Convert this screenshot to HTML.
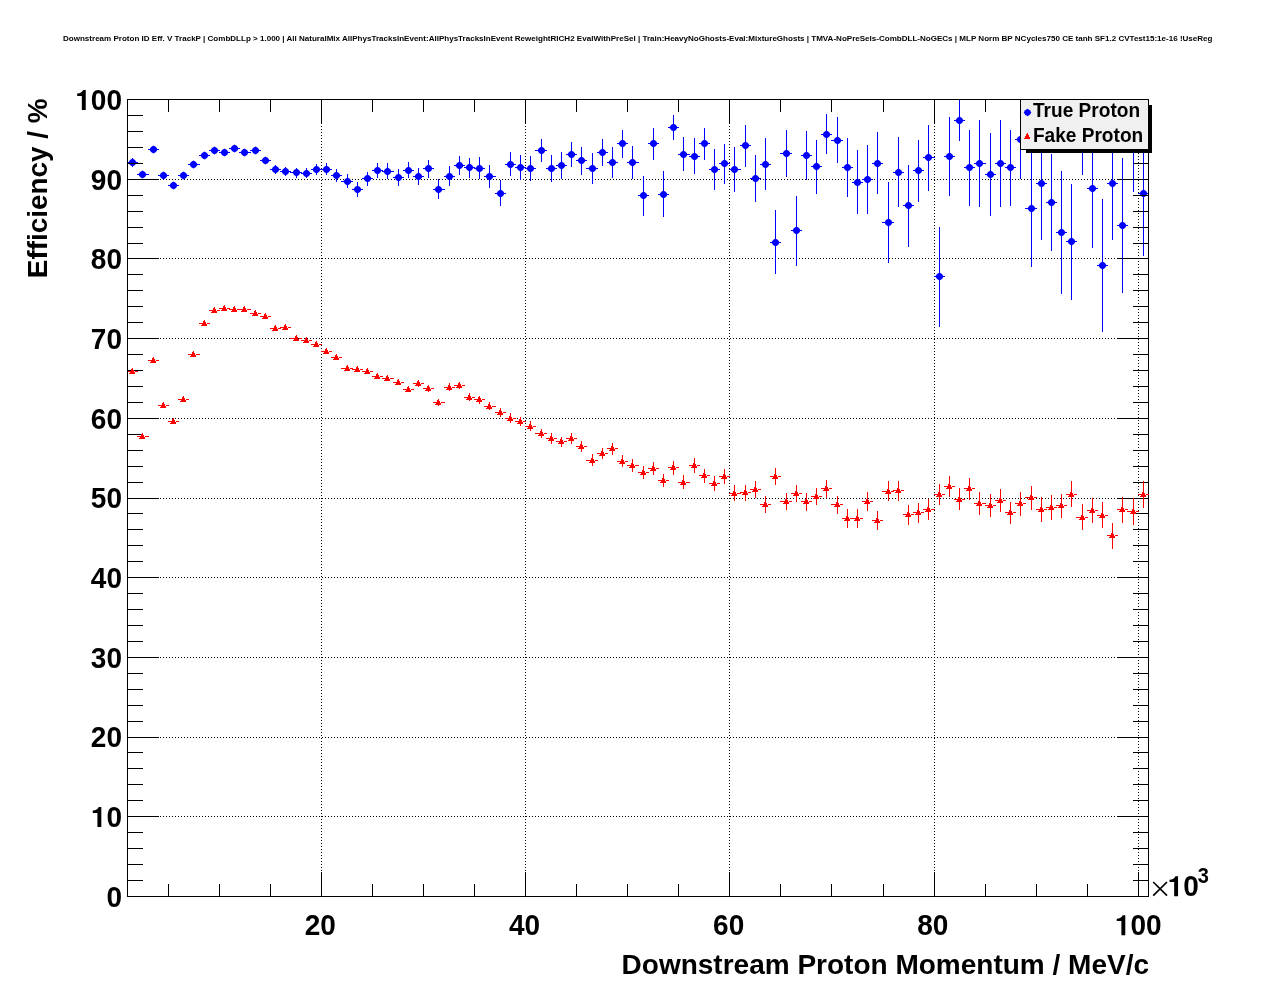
<!DOCTYPE html>
<html><head><meta charset="utf-8"><title>plot</title>
<style>html,body{margin:0;padding:0;background:#fff;}body{width:1276px;height:996px;overflow:hidden;font-family:"Liberation Sans", sans-serif;}svg{display:block;will-change:transform}</style>
</head><body>
<svg width="1276" height="996" viewBox="0 0 1276 996">
<rect x="0" y="0" width="1276" height="996" fill="#fff"/>
<defs><clipPath id="fr"><rect x="127.0" y="99.0" width="1022.0" height="798.0"/></clipPath></defs>
<g stroke="#000" stroke-width="1" stroke-dasharray="1 2" shape-rendering="crispEdges" fill="none">
<line x1="127.0" y1="816.5" x2="1148.5" y2="816.5"/>
<line x1="127.0" y1="737.5" x2="1148.5" y2="737.5"/>
<line x1="127.0" y1="657.5" x2="1148.5" y2="657.5"/>
<line x1="127.0" y1="577.5" x2="1148.5" y2="577.5"/>
<line x1="127.0" y1="498.5" x2="1148.5" y2="498.5"/>
<line x1="127.0" y1="418.5" x2="1148.5" y2="418.5"/>
<line x1="127.0" y1="338.5" x2="1148.5" y2="338.5"/>
<line x1="127.0" y1="258.5" x2="1148.5" y2="258.5"/>
<line x1="127.0" y1="179.5" x2="1148.5" y2="179.5"/>
<line x1="321.5" y1="99.0" x2="321.5" y2="896.5"/>
<line x1="525.5" y1="99.0" x2="525.5" y2="896.5"/>
<line x1="729.5" y1="99.0" x2="729.5" y2="896.5"/>
<line x1="934.5" y1="99.0" x2="934.5" y2="896.5"/>
<line x1="1138.5" y1="99.0" x2="1138.5" y2="896.5"/>
</g>
<g clip-path="url(#fr)">
<g stroke="#0000ff" stroke-width="1" shape-rendering="crispEdges" fill="none">
<line x1="127.5" y1="162.5" x2="138" y2="162.5"/>
<line x1="132.5" y1="158" x2="132.5" y2="167"/>
<line x1="137" y1="174.5" x2="149" y2="174.5"/>
<line x1="148" y1="149.5" x2="159" y2="149.5"/>
<line x1="158" y1="175.5" x2="169" y2="175.5"/>
<line x1="168" y1="185.5" x2="179" y2="185.5"/>
<line x1="178" y1="175.5" x2="189" y2="175.5"/>
<line x1="188" y1="164.5" x2="200" y2="164.5"/>
<line x1="199" y1="155.5" x2="210" y2="155.5"/>
<line x1="209" y1="150.5" x2="220" y2="150.5"/>
<line x1="219" y1="152.5" x2="230" y2="152.5"/>
<line x1="229" y1="148.5" x2="240" y2="148.5"/>
<line x1="239" y1="152.5" x2="251" y2="152.5"/>
<line x1="250" y1="150.5" x2="261" y2="150.5"/>
<line x1="260" y1="160.5" x2="271" y2="160.5"/>
<line x1="270" y1="169.5" x2="281" y2="169.5"/>
<line x1="275.5" y1="165" x2="275.5" y2="174"/>
<line x1="280" y1="171.5" x2="291" y2="171.5"/>
<line x1="285.5" y1="167" x2="285.5" y2="176"/>
<line x1="290" y1="172.5" x2="302" y2="172.5"/>
<line x1="296.5" y1="168" x2="296.5" y2="178"/>
<line x1="301" y1="173.5" x2="312" y2="173.5"/>
<line x1="306.5" y1="168" x2="306.5" y2="178"/>
<line x1="311" y1="169.5" x2="322" y2="169.5"/>
<line x1="316.5" y1="164" x2="316.5" y2="175"/>
<line x1="321" y1="169.5" x2="332" y2="169.5"/>
<line x1="326.5" y1="163" x2="326.5" y2="175"/>
<line x1="331" y1="175.5" x2="342" y2="175.5"/>
<line x1="336.5" y1="169" x2="336.5" y2="182"/>
<line x1="341" y1="181.5" x2="353" y2="181.5"/>
<line x1="347.5" y1="174" x2="347.5" y2="188"/>
<line x1="352" y1="189.5" x2="363" y2="189.5"/>
<line x1="357.5" y1="182" x2="357.5" y2="197"/>
<line x1="362" y1="178.5" x2="373" y2="178.5"/>
<line x1="367.5" y1="172" x2="367.5" y2="186"/>
<line x1="372" y1="170.5" x2="383" y2="170.5"/>
<line x1="377.5" y1="163" x2="377.5" y2="178"/>
<line x1="382" y1="171.5" x2="394" y2="171.5"/>
<line x1="387.5" y1="163" x2="387.5" y2="179"/>
<line x1="393" y1="177.5" x2="404" y2="177.5"/>
<line x1="398.5" y1="169" x2="398.5" y2="186"/>
<line x1="403" y1="170.5" x2="414" y2="170.5"/>
<line x1="408.5" y1="162" x2="408.5" y2="178"/>
<line x1="413" y1="176.5" x2="424" y2="176.5"/>
<line x1="418.5" y1="168" x2="418.5" y2="185"/>
<line x1="423" y1="168.5" x2="434" y2="168.5"/>
<line x1="428.5" y1="160" x2="428.5" y2="178"/>
<line x1="433" y1="189.5" x2="445" y2="189.5"/>
<line x1="438.5" y1="179" x2="438.5" y2="199"/>
<line x1="444" y1="176.5" x2="455" y2="176.5"/>
<line x1="449.5" y1="166" x2="449.5" y2="186"/>
<line x1="454" y1="165.5" x2="465" y2="165.5"/>
<line x1="459.5" y1="156" x2="459.5" y2="175"/>
<line x1="464" y1="167.5" x2="475" y2="167.5"/>
<line x1="469.5" y1="158" x2="469.5" y2="178"/>
<line x1="474" y1="168.5" x2="485" y2="168.5"/>
<line x1="479.5" y1="157" x2="479.5" y2="179"/>
<line x1="484" y1="176.5" x2="496" y2="176.5"/>
<line x1="489.5" y1="165" x2="489.5" y2="188"/>
<line x1="495" y1="193.5" x2="506" y2="193.5"/>
<line x1="500.5" y1="180" x2="500.5" y2="206"/>
<line x1="505" y1="164.5" x2="516" y2="164.5"/>
<line x1="510.5" y1="152" x2="510.5" y2="176"/>
<line x1="515" y1="167.5" x2="526" y2="167.5"/>
<line x1="520.5" y1="155" x2="520.5" y2="180"/>
<line x1="525" y1="168.5" x2="536" y2="168.5"/>
<line x1="530.5" y1="156" x2="530.5" y2="181"/>
<line x1="535" y1="150.5" x2="547" y2="150.5"/>
<line x1="541.5" y1="139" x2="541.5" y2="162"/>
<line x1="546" y1="168.5" x2="557" y2="168.5"/>
<line x1="551.5" y1="155" x2="551.5" y2="182"/>
<line x1="556" y1="165.5" x2="567" y2="165.5"/>
<line x1="561.5" y1="152" x2="561.5" y2="179"/>
<line x1="566" y1="154.5" x2="577" y2="154.5"/>
<line x1="571.5" y1="142" x2="571.5" y2="167"/>
<line x1="576" y1="160.5" x2="587" y2="160.5"/>
<line x1="581.5" y1="147" x2="581.5" y2="175"/>
<line x1="586" y1="168.5" x2="598" y2="168.5"/>
<line x1="592.5" y1="153" x2="592.5" y2="184"/>
<line x1="597" y1="152.5" x2="608" y2="152.5"/>
<line x1="602.5" y1="139" x2="602.5" y2="166"/>
<line x1="607" y1="162.5" x2="618" y2="162.5"/>
<line x1="612.5" y1="147" x2="612.5" y2="178"/>
<line x1="617" y1="143.5" x2="628" y2="143.5"/>
<line x1="622.5" y1="130" x2="622.5" y2="158"/>
<line x1="627" y1="162.5" x2="639" y2="162.5"/>
<line x1="632.5" y1="146" x2="632.5" y2="179"/>
<line x1="638" y1="195.5" x2="649" y2="195.5"/>
<line x1="643.5" y1="176" x2="643.5" y2="216"/>
<line x1="648" y1="143.5" x2="659" y2="143.5"/>
<line x1="653.5" y1="128" x2="653.5" y2="160"/>
<line x1="658" y1="194.5" x2="669" y2="194.5"/>
<line x1="663.5" y1="171" x2="663.5" y2="217"/>
<line x1="668" y1="127.5" x2="679" y2="127.5"/>
<line x1="673.5" y1="115" x2="673.5" y2="140"/>
<line x1="678" y1="154.5" x2="690" y2="154.5"/>
<line x1="683.5" y1="137" x2="683.5" y2="171"/>
<line x1="689" y1="156.5" x2="700" y2="156.5"/>
<line x1="694.5" y1="138" x2="694.5" y2="174"/>
<line x1="699" y1="143.5" x2="710" y2="143.5"/>
<line x1="704.5" y1="128" x2="704.5" y2="160"/>
<line x1="709" y1="169.5" x2="720" y2="169.5"/>
<line x1="714.5" y1="149" x2="714.5" y2="190"/>
<line x1="719" y1="163.5" x2="730" y2="163.5"/>
<line x1="724.5" y1="144" x2="724.5" y2="184"/>
<line x1="729" y1="169.5" x2="741" y2="169.5"/>
<line x1="734.5" y1="147" x2="734.5" y2="192"/>
<line x1="740" y1="145.5" x2="751" y2="145.5"/>
<line x1="745.5" y1="125" x2="745.5" y2="167"/>
<line x1="750" y1="178.5" x2="761" y2="178.5"/>
<line x1="755.5" y1="155" x2="755.5" y2="202"/>
<line x1="760" y1="164.5" x2="771" y2="164.5"/>
<line x1="765.5" y1="138" x2="765.5" y2="190"/>
<line x1="770" y1="242.5" x2="781" y2="242.5"/>
<line x1="775.5" y1="210" x2="775.5" y2="274"/>
<line x1="780" y1="153.5" x2="792" y2="153.5"/>
<line x1="786.5" y1="130" x2="786.5" y2="177"/>
<line x1="791" y1="230.5" x2="802" y2="230.5"/>
<line x1="796.5" y1="196" x2="796.5" y2="266"/>
<line x1="801" y1="155.5" x2="812" y2="155.5"/>
<line x1="806.5" y1="131" x2="806.5" y2="180"/>
<line x1="811" y1="166.5" x2="822" y2="166.5"/>
<line x1="816.5" y1="140" x2="816.5" y2="194"/>
<line x1="821" y1="134.5" x2="832" y2="134.5"/>
<line x1="826.5" y1="114" x2="826.5" y2="154"/>
<line x1="831" y1="140.5" x2="843" y2="140.5"/>
<line x1="837.5" y1="117" x2="837.5" y2="163"/>
<line x1="842" y1="167.5" x2="853" y2="167.5"/>
<line x1="847.5" y1="138" x2="847.5" y2="197"/>
<line x1="852" y1="182.5" x2="863" y2="182.5"/>
<line x1="857.5" y1="150" x2="857.5" y2="214"/>
<line x1="862" y1="179.5" x2="873" y2="179.5"/>
<line x1="867.5" y1="145" x2="867.5" y2="214"/>
<line x1="872" y1="163.5" x2="883" y2="163.5"/>
<line x1="877.5" y1="132" x2="877.5" y2="194"/>
<line x1="882" y1="222.5" x2="894" y2="222.5"/>
<line x1="888.5" y1="182" x2="888.5" y2="263"/>
<line x1="893" y1="172.5" x2="904" y2="172.5"/>
<line x1="898.5" y1="137" x2="898.5" y2="207"/>
<line x1="903" y1="205.5" x2="914" y2="205.5"/>
<line x1="908.5" y1="165" x2="908.5" y2="247"/>
<line x1="913" y1="170.5" x2="924" y2="170.5"/>
<line x1="918.5" y1="140" x2="918.5" y2="202"/>
<line x1="923" y1="157.5" x2="935" y2="157.5"/>
<line x1="928.5" y1="125" x2="928.5" y2="191"/>
<line x1="934" y1="276.5" x2="945" y2="276.5"/>
<line x1="939.5" y1="227" x2="939.5" y2="327"/>
<line x1="944" y1="156.5" x2="955" y2="156.5"/>
<line x1="949.5" y1="117" x2="949.5" y2="196"/>
<line x1="954" y1="120.5" x2="965" y2="120.5"/>
<line x1="959.5" y1="100" x2="959.5" y2="141"/>
<line x1="964" y1="167.5" x2="975" y2="167.5"/>
<line x1="969.5" y1="130" x2="969.5" y2="206"/>
<line x1="974" y1="163.5" x2="986" y2="163.5"/>
<line x1="979.5" y1="120" x2="979.5" y2="207"/>
<line x1="985" y1="174.5" x2="996" y2="174.5"/>
<line x1="990.5" y1="133" x2="990.5" y2="216"/>
<line x1="995" y1="163.5" x2="1006" y2="163.5"/>
<line x1="1000.5" y1="120" x2="1000.5" y2="207"/>
<line x1="1005" y1="167.5" x2="1016" y2="167.5"/>
<line x1="1010.5" y1="130" x2="1010.5" y2="206"/>
<line x1="1015" y1="139.5" x2="1026" y2="139.5"/>
<line x1="1020.5" y1="100" x2="1020.5" y2="179"/>
<line x1="1025" y1="208.5" x2="1037" y2="208.5"/>
<line x1="1031.5" y1="150" x2="1031.5" y2="267"/>
<line x1="1036" y1="183.5" x2="1047" y2="183.5"/>
<line x1="1041.5" y1="128" x2="1041.5" y2="240"/>
<line x1="1046" y1="202.5" x2="1057" y2="202.5"/>
<line x1="1051.5" y1="154" x2="1051.5" y2="251"/>
<line x1="1056" y1="232.5" x2="1067" y2="232.5"/>
<line x1="1061.5" y1="171" x2="1061.5" y2="294"/>
<line x1="1066" y1="241.5" x2="1077" y2="241.5"/>
<line x1="1071.5" y1="184" x2="1071.5" y2="300"/>
<line x1="1076" y1="129.5" x2="1088" y2="129.5"/>
<line x1="1082.5" y1="83" x2="1082.5" y2="175"/>
<line x1="1087" y1="188.5" x2="1098" y2="188.5"/>
<line x1="1092.5" y1="129" x2="1092.5" y2="248"/>
<line x1="1097" y1="265.5" x2="1108" y2="265.5"/>
<line x1="1102.5" y1="199" x2="1102.5" y2="332"/>
<line x1="1107" y1="183.5" x2="1118" y2="183.5"/>
<line x1="1112.5" y1="128" x2="1112.5" y2="240"/>
<line x1="1117" y1="225.5" x2="1128" y2="225.5"/>
<line x1="1122.5" y1="158" x2="1122.5" y2="293"/>
<line x1="1127" y1="130.5" x2="1139" y2="130.5"/>
<line x1="1133.5" y1="68" x2="1133.5" y2="192"/>
<line x1="1138" y1="193.5" x2="1149" y2="193.5"/>
<line x1="1143.5" y1="131" x2="1143.5" y2="256"/>
</g>
<g fill="#0000ff" stroke="none">
<path d="M136.6 162.5L135.0 165.0L132.5 166.6L130.0 165.0L128.4 162.5L130.0 160.0L132.5 158.4L135.0 160.0Z"/>
<path d="M146.6 174.5L145.0 177.0L142.5 178.6L140.0 177.0L138.4 174.5L140.0 172.0L142.5 170.4L145.0 172.0Z"/>
<path d="M157.6 149.5L156.0 152.0L153.5 153.6L151.0 152.0L149.4 149.5L151.0 147.0L153.5 145.4L156.0 147.0Z"/>
<path d="M167.6 175.5L166.0 178.0L163.5 179.6L161.0 178.0L159.4 175.5L161.0 173.0L163.5 171.4L166.0 173.0Z"/>
<path d="M177.6 185.5L176.0 188.0L173.5 189.6L171.0 188.0L169.4 185.5L171.0 183.0L173.5 181.4L176.0 183.0Z"/>
<path d="M187.6 175.5L186.0 178.0L183.5 179.6L181.0 178.0L179.4 175.5L181.0 173.0L183.5 171.4L186.0 173.0Z"/>
<path d="M197.6 164.5L196.0 167.0L193.5 168.6L191.0 167.0L189.4 164.5L191.0 162.0L193.5 160.4L196.0 162.0Z"/>
<path d="M208.6 155.5L207.0 158.0L204.5 159.6L202.0 158.0L200.4 155.5L202.0 153.0L204.5 151.4L207.0 153.0Z"/>
<path d="M218.6 150.5L217.0 153.0L214.5 154.6L212.0 153.0L210.4 150.5L212.0 148.0L214.5 146.4L217.0 148.0Z"/>
<path d="M228.6 152.5L227.0 155.0L224.5 156.6L222.0 155.0L220.4 152.5L222.0 150.0L224.5 148.4L227.0 150.0Z"/>
<path d="M238.6 148.5L237.0 151.0L234.5 152.6L232.0 151.0L230.4 148.5L232.0 146.0L234.5 144.4L237.0 146.0Z"/>
<path d="M248.6 152.5L247.0 155.0L244.5 156.6L242.0 155.0L240.4 152.5L242.0 150.0L244.5 148.4L247.0 150.0Z"/>
<path d="M259.6 150.5L258.0 153.0L255.5 154.6L253.0 153.0L251.4 150.5L253.0 148.0L255.5 146.4L258.0 148.0Z"/>
<path d="M269.6 160.5L268.0 163.0L265.5 164.6L263.0 163.0L261.4 160.5L263.0 158.0L265.5 156.4L268.0 158.0Z"/>
<path d="M279.6 169.5L278.0 172.0L275.5 173.6L273.0 172.0L271.4 169.5L273.0 167.0L275.5 165.4L278.0 167.0Z"/>
<path d="M289.6 171.5L288.0 174.0L285.5 175.6L283.0 174.0L281.4 171.5L283.0 169.0L285.5 167.4L288.0 169.0Z"/>
<path d="M300.6 172.5L299.0 175.0L296.5 176.6L294.0 175.0L292.4 172.5L294.0 170.0L296.5 168.4L299.0 170.0Z"/>
<path d="M310.6 173.5L309.0 176.0L306.5 177.6L304.0 176.0L302.4 173.5L304.0 171.0L306.5 169.4L309.0 171.0Z"/>
<path d="M320.6 169.5L319.0 172.0L316.5 173.6L314.0 172.0L312.4 169.5L314.0 167.0L316.5 165.4L319.0 167.0Z"/>
<path d="M330.6 169.5L329.0 172.0L326.5 173.6L324.0 172.0L322.4 169.5L324.0 167.0L326.5 165.4L329.0 167.0Z"/>
<path d="M340.6 175.5L339.0 178.0L336.5 179.6L334.0 178.0L332.4 175.5L334.0 173.0L336.5 171.4L339.0 173.0Z"/>
<path d="M351.6 181.5L350.0 184.0L347.5 185.6L345.0 184.0L343.4 181.5L345.0 179.0L347.5 177.4L350.0 179.0Z"/>
<path d="M361.6 189.5L360.0 192.0L357.5 193.6L355.0 192.0L353.4 189.5L355.0 187.0L357.5 185.4L360.0 187.0Z"/>
<path d="M371.6 178.5L370.0 181.0L367.5 182.6L365.0 181.0L363.4 178.5L365.0 176.0L367.5 174.4L370.0 176.0Z"/>
<path d="M381.6 170.5L380.0 173.0L377.5 174.6L375.0 173.0L373.4 170.5L375.0 168.0L377.5 166.4L380.0 168.0Z"/>
<path d="M391.6 171.5L390.0 174.0L387.5 175.6L385.0 174.0L383.4 171.5L385.0 169.0L387.5 167.4L390.0 169.0Z"/>
<path d="M402.6 177.5L401.0 180.0L398.5 181.6L396.0 180.0L394.4 177.5L396.0 175.0L398.5 173.4L401.0 175.0Z"/>
<path d="M412.6 170.5L411.0 173.0L408.5 174.6L406.0 173.0L404.4 170.5L406.0 168.0L408.5 166.4L411.0 168.0Z"/>
<path d="M422.6 176.5L421.0 179.0L418.5 180.6L416.0 179.0L414.4 176.5L416.0 174.0L418.5 172.4L421.0 174.0Z"/>
<path d="M432.6 168.5L431.0 171.0L428.5 172.6L426.0 171.0L424.4 168.5L426.0 166.0L428.5 164.4L431.0 166.0Z"/>
<path d="M442.6 189.5L441.0 192.0L438.5 193.6L436.0 192.0L434.4 189.5L436.0 187.0L438.5 185.4L441.0 187.0Z"/>
<path d="M453.6 176.5L452.0 179.0L449.5 180.6L447.0 179.0L445.4 176.5L447.0 174.0L449.5 172.4L452.0 174.0Z"/>
<path d="M463.6 165.5L462.0 168.0L459.5 169.6L457.0 168.0L455.4 165.5L457.0 163.0L459.5 161.4L462.0 163.0Z"/>
<path d="M473.6 167.5L472.0 170.0L469.5 171.6L467.0 170.0L465.4 167.5L467.0 165.0L469.5 163.4L472.0 165.0Z"/>
<path d="M483.6 168.5L482.0 171.0L479.5 172.6L477.0 171.0L475.4 168.5L477.0 166.0L479.5 164.4L482.0 166.0Z"/>
<path d="M493.6 176.5L492.0 179.0L489.5 180.6L487.0 179.0L485.4 176.5L487.0 174.0L489.5 172.4L492.0 174.0Z"/>
<path d="M504.6 193.5L503.0 196.0L500.5 197.6L498.0 196.0L496.4 193.5L498.0 191.0L500.5 189.4L503.0 191.0Z"/>
<path d="M514.6 164.5L513.0 167.0L510.5 168.6L508.0 167.0L506.4 164.5L508.0 162.0L510.5 160.4L513.0 162.0Z"/>
<path d="M524.6 167.5L523.0 170.0L520.5 171.6L518.0 170.0L516.4 167.5L518.0 165.0L520.5 163.4L523.0 165.0Z"/>
<path d="M534.6 168.5L533.0 171.0L530.5 172.6L528.0 171.0L526.4 168.5L528.0 166.0L530.5 164.4L533.0 166.0Z"/>
<path d="M545.6 150.5L544.0 153.0L541.5 154.6L539.0 153.0L537.4 150.5L539.0 148.0L541.5 146.4L544.0 148.0Z"/>
<path d="M555.6 168.5L554.0 171.0L551.5 172.6L549.0 171.0L547.4 168.5L549.0 166.0L551.5 164.4L554.0 166.0Z"/>
<path d="M565.6 165.5L564.0 168.0L561.5 169.6L559.0 168.0L557.4 165.5L559.0 163.0L561.5 161.4L564.0 163.0Z"/>
<path d="M575.6 154.5L574.0 157.0L571.5 158.6L569.0 157.0L567.4 154.5L569.0 152.0L571.5 150.4L574.0 152.0Z"/>
<path d="M585.6 160.5L584.0 163.0L581.5 164.6L579.0 163.0L577.4 160.5L579.0 158.0L581.5 156.4L584.0 158.0Z"/>
<path d="M596.6 168.5L595.0 171.0L592.5 172.6L590.0 171.0L588.4 168.5L590.0 166.0L592.5 164.4L595.0 166.0Z"/>
<path d="M606.6 152.5L605.0 155.0L602.5 156.6L600.0 155.0L598.4 152.5L600.0 150.0L602.5 148.4L605.0 150.0Z"/>
<path d="M616.6 162.5L615.0 165.0L612.5 166.6L610.0 165.0L608.4 162.5L610.0 160.0L612.5 158.4L615.0 160.0Z"/>
<path d="M626.6 143.5L625.0 146.0L622.5 147.6L620.0 146.0L618.4 143.5L620.0 141.0L622.5 139.4L625.0 141.0Z"/>
<path d="M636.6 162.5L635.0 165.0L632.5 166.6L630.0 165.0L628.4 162.5L630.0 160.0L632.5 158.4L635.0 160.0Z"/>
<path d="M647.6 195.5L646.0 198.0L643.5 199.6L641.0 198.0L639.4 195.5L641.0 193.0L643.5 191.4L646.0 193.0Z"/>
<path d="M657.6 143.5L656.0 146.0L653.5 147.6L651.0 146.0L649.4 143.5L651.0 141.0L653.5 139.4L656.0 141.0Z"/>
<path d="M667.6 194.5L666.0 197.0L663.5 198.6L661.0 197.0L659.4 194.5L661.0 192.0L663.5 190.4L666.0 192.0Z"/>
<path d="M677.6 127.5L676.0 130.0L673.5 131.6L671.0 130.0L669.4 127.5L671.0 125.0L673.5 123.4L676.0 125.0Z"/>
<path d="M687.6 154.5L686.0 157.0L683.5 158.6L681.0 157.0L679.4 154.5L681.0 152.0L683.5 150.4L686.0 152.0Z"/>
<path d="M698.6 156.5L697.0 159.0L694.5 160.6L692.0 159.0L690.4 156.5L692.0 154.0L694.5 152.4L697.0 154.0Z"/>
<path d="M708.6 143.5L707.0 146.0L704.5 147.6L702.0 146.0L700.4 143.5L702.0 141.0L704.5 139.4L707.0 141.0Z"/>
<path d="M718.6 169.5L717.0 172.0L714.5 173.6L712.0 172.0L710.4 169.5L712.0 167.0L714.5 165.4L717.0 167.0Z"/>
<path d="M728.6 163.5L727.0 166.0L724.5 167.6L722.0 166.0L720.4 163.5L722.0 161.0L724.5 159.4L727.0 161.0Z"/>
<path d="M738.6 169.5L737.0 172.0L734.5 173.6L732.0 172.0L730.4 169.5L732.0 167.0L734.5 165.4L737.0 167.0Z"/>
<path d="M749.6 145.5L748.0 148.0L745.5 149.6L743.0 148.0L741.4 145.5L743.0 143.0L745.5 141.4L748.0 143.0Z"/>
<path d="M759.6 178.5L758.0 181.0L755.5 182.6L753.0 181.0L751.4 178.5L753.0 176.0L755.5 174.4L758.0 176.0Z"/>
<path d="M769.6 164.5L768.0 167.0L765.5 168.6L763.0 167.0L761.4 164.5L763.0 162.0L765.5 160.4L768.0 162.0Z"/>
<path d="M779.6 242.5L778.0 245.0L775.5 246.6L773.0 245.0L771.4 242.5L773.0 240.0L775.5 238.4L778.0 240.0Z"/>
<path d="M790.6 153.5L789.0 156.0L786.5 157.6L784.0 156.0L782.4 153.5L784.0 151.0L786.5 149.4L789.0 151.0Z"/>
<path d="M800.6 230.5L799.0 233.0L796.5 234.6L794.0 233.0L792.4 230.5L794.0 228.0L796.5 226.4L799.0 228.0Z"/>
<path d="M810.6 155.5L809.0 158.0L806.5 159.6L804.0 158.0L802.4 155.5L804.0 153.0L806.5 151.4L809.0 153.0Z"/>
<path d="M820.6 166.5L819.0 169.0L816.5 170.6L814.0 169.0L812.4 166.5L814.0 164.0L816.5 162.4L819.0 164.0Z"/>
<path d="M830.6 134.5L829.0 137.0L826.5 138.6L824.0 137.0L822.4 134.5L824.0 132.0L826.5 130.4L829.0 132.0Z"/>
<path d="M841.6 140.5L840.0 143.0L837.5 144.6L835.0 143.0L833.4 140.5L835.0 138.0L837.5 136.4L840.0 138.0Z"/>
<path d="M851.6 167.5L850.0 170.0L847.5 171.6L845.0 170.0L843.4 167.5L845.0 165.0L847.5 163.4L850.0 165.0Z"/>
<path d="M861.6 182.5L860.0 185.0L857.5 186.6L855.0 185.0L853.4 182.5L855.0 180.0L857.5 178.4L860.0 180.0Z"/>
<path d="M871.6 179.5L870.0 182.0L867.5 183.6L865.0 182.0L863.4 179.5L865.0 177.0L867.5 175.4L870.0 177.0Z"/>
<path d="M881.6 163.5L880.0 166.0L877.5 167.6L875.0 166.0L873.4 163.5L875.0 161.0L877.5 159.4L880.0 161.0Z"/>
<path d="M892.6 222.5L891.0 225.0L888.5 226.6L886.0 225.0L884.4 222.5L886.0 220.0L888.5 218.4L891.0 220.0Z"/>
<path d="M902.6 172.5L901.0 175.0L898.5 176.6L896.0 175.0L894.4 172.5L896.0 170.0L898.5 168.4L901.0 170.0Z"/>
<path d="M912.6 205.5L911.0 208.0L908.5 209.6L906.0 208.0L904.4 205.5L906.0 203.0L908.5 201.4L911.0 203.0Z"/>
<path d="M922.6 170.5L921.0 173.0L918.5 174.6L916.0 173.0L914.4 170.5L916.0 168.0L918.5 166.4L921.0 168.0Z"/>
<path d="M932.6 157.5L931.0 160.0L928.5 161.6L926.0 160.0L924.4 157.5L926.0 155.0L928.5 153.4L931.0 155.0Z"/>
<path d="M943.6 276.5L942.0 279.0L939.5 280.6L937.0 279.0L935.4 276.5L937.0 274.0L939.5 272.4L942.0 274.0Z"/>
<path d="M953.6 156.5L952.0 159.0L949.5 160.6L947.0 159.0L945.4 156.5L947.0 154.0L949.5 152.4L952.0 154.0Z"/>
<path d="M963.6 120.5L962.0 123.0L959.5 124.6L957.0 123.0L955.4 120.5L957.0 118.0L959.5 116.4L962.0 118.0Z"/>
<path d="M973.6 167.5L972.0 170.0L969.5 171.6L967.0 170.0L965.4 167.5L967.0 165.0L969.5 163.4L972.0 165.0Z"/>
<path d="M983.6 163.5L982.0 166.0L979.5 167.6L977.0 166.0L975.4 163.5L977.0 161.0L979.5 159.4L982.0 161.0Z"/>
<path d="M994.6 174.5L993.0 177.0L990.5 178.6L988.0 177.0L986.4 174.5L988.0 172.0L990.5 170.4L993.0 172.0Z"/>
<path d="M1004.6 163.5L1003.0 166.0L1000.5 167.6L998.0 166.0L996.4 163.5L998.0 161.0L1000.5 159.4L1003.0 161.0Z"/>
<path d="M1014.6 167.5L1013.0 170.0L1010.5 171.6L1008.0 170.0L1006.4 167.5L1008.0 165.0L1010.5 163.4L1013.0 165.0Z"/>
<path d="M1024.6 139.5L1023.0 142.0L1020.5 143.6L1018.0 142.0L1016.4 139.5L1018.0 137.0L1020.5 135.4L1023.0 137.0Z"/>
<path d="M1035.6 208.5L1034.0 211.0L1031.5 212.6L1029.0 211.0L1027.4 208.5L1029.0 206.0L1031.5 204.4L1034.0 206.0Z"/>
<path d="M1045.6 183.5L1044.0 186.0L1041.5 187.6L1039.0 186.0L1037.4 183.5L1039.0 181.0L1041.5 179.4L1044.0 181.0Z"/>
<path d="M1055.6 202.5L1054.0 205.0L1051.5 206.6L1049.0 205.0L1047.4 202.5L1049.0 200.0L1051.5 198.4L1054.0 200.0Z"/>
<path d="M1065.6 232.5L1064.0 235.0L1061.5 236.6L1059.0 235.0L1057.4 232.5L1059.0 230.0L1061.5 228.4L1064.0 230.0Z"/>
<path d="M1075.6 241.5L1074.0 244.0L1071.5 245.6L1069.0 244.0L1067.4 241.5L1069.0 239.0L1071.5 237.4L1074.0 239.0Z"/>
<path d="M1086.6 129.5L1085.0 132.0L1082.5 133.6L1080.0 132.0L1078.4 129.5L1080.0 127.0L1082.5 125.4L1085.0 127.0Z"/>
<path d="M1096.6 188.5L1095.0 191.0L1092.5 192.6L1090.0 191.0L1088.4 188.5L1090.0 186.0L1092.5 184.4L1095.0 186.0Z"/>
<path d="M1106.6 265.5L1105.0 268.0L1102.5 269.6L1100.0 268.0L1098.4 265.5L1100.0 263.0L1102.5 261.4L1105.0 263.0Z"/>
<path d="M1116.6 183.5L1115.0 186.0L1112.5 187.6L1110.0 186.0L1108.4 183.5L1110.0 181.0L1112.5 179.4L1115.0 181.0Z"/>
<path d="M1126.6 225.5L1125.0 228.0L1122.5 229.6L1120.0 228.0L1118.4 225.5L1120.0 223.0L1122.5 221.4L1125.0 223.0Z"/>
<path d="M1137.6 130.5L1136.0 133.0L1133.5 134.6L1131.0 133.0L1129.4 130.5L1131.0 128.0L1133.5 126.4L1136.0 128.0Z"/>
<path d="M1147.6 193.5L1146.0 196.0L1143.5 197.6L1141.0 196.0L1139.4 193.5L1141.0 191.0L1143.5 189.4L1146.0 191.0Z"/>
</g></g>
<g stroke="#000" stroke-width="1" shape-rendering="crispEdges" fill="none">
<rect x="127.5" y="99.5" width="1021.0" height="797.0"/>
<line x1="127.5" y1="896.5" x2="159.0" y2="896.5"/>
<line x1="1148.5" y1="896.5" x2="1117.0" y2="896.5"/>
<line x1="127.5" y1="880.5" x2="143.0" y2="880.5"/>
<line x1="1148.5" y1="880.5" x2="1133.0" y2="880.5"/>
<line x1="127.5" y1="864.5" x2="143.0" y2="864.5"/>
<line x1="1148.5" y1="864.5" x2="1133.0" y2="864.5"/>
<line x1="127.5" y1="848.5" x2="143.0" y2="848.5"/>
<line x1="1148.5" y1="848.5" x2="1133.0" y2="848.5"/>
<line x1="127.5" y1="832.5" x2="143.0" y2="832.5"/>
<line x1="1148.5" y1="832.5" x2="1133.0" y2="832.5"/>
<line x1="127.5" y1="816.5" x2="159.0" y2="816.5"/>
<line x1="1148.5" y1="816.5" x2="1117.0" y2="816.5"/>
<line x1="127.5" y1="800.5" x2="143.0" y2="800.5"/>
<line x1="1148.5" y1="800.5" x2="1133.0" y2="800.5"/>
<line x1="127.5" y1="784.5" x2="143.0" y2="784.5"/>
<line x1="1148.5" y1="784.5" x2="1133.0" y2="784.5"/>
<line x1="127.5" y1="768.5" x2="143.0" y2="768.5"/>
<line x1="1148.5" y1="768.5" x2="1133.0" y2="768.5"/>
<line x1="127.5" y1="752.5" x2="143.0" y2="752.5"/>
<line x1="1148.5" y1="752.5" x2="1133.0" y2="752.5"/>
<line x1="127.5" y1="737.5" x2="159.0" y2="737.5"/>
<line x1="1148.5" y1="737.5" x2="1117.0" y2="737.5"/>
<line x1="127.5" y1="721.5" x2="143.0" y2="721.5"/>
<line x1="1148.5" y1="721.5" x2="1133.0" y2="721.5"/>
<line x1="127.5" y1="705.5" x2="143.0" y2="705.5"/>
<line x1="1148.5" y1="705.5" x2="1133.0" y2="705.5"/>
<line x1="127.5" y1="689.5" x2="143.0" y2="689.5"/>
<line x1="1148.5" y1="689.5" x2="1133.0" y2="689.5"/>
<line x1="127.5" y1="673.5" x2="143.0" y2="673.5"/>
<line x1="1148.5" y1="673.5" x2="1133.0" y2="673.5"/>
<line x1="127.5" y1="657.5" x2="159.0" y2="657.5"/>
<line x1="1148.5" y1="657.5" x2="1117.0" y2="657.5"/>
<line x1="127.5" y1="641.5" x2="143.0" y2="641.5"/>
<line x1="1148.5" y1="641.5" x2="1133.0" y2="641.5"/>
<line x1="127.5" y1="625.5" x2="143.0" y2="625.5"/>
<line x1="1148.5" y1="625.5" x2="1133.0" y2="625.5"/>
<line x1="127.5" y1="609.5" x2="143.0" y2="609.5"/>
<line x1="1148.5" y1="609.5" x2="1133.0" y2="609.5"/>
<line x1="127.5" y1="593.5" x2="143.0" y2="593.5"/>
<line x1="1148.5" y1="593.5" x2="1133.0" y2="593.5"/>
<line x1="127.5" y1="577.5" x2="159.0" y2="577.5"/>
<line x1="1148.5" y1="577.5" x2="1117.0" y2="577.5"/>
<line x1="127.5" y1="561.5" x2="143.0" y2="561.5"/>
<line x1="1148.5" y1="561.5" x2="1133.0" y2="561.5"/>
<line x1="127.5" y1="545.5" x2="143.0" y2="545.5"/>
<line x1="1148.5" y1="545.5" x2="1133.0" y2="545.5"/>
<line x1="127.5" y1="529.5" x2="143.0" y2="529.5"/>
<line x1="1148.5" y1="529.5" x2="1133.0" y2="529.5"/>
<line x1="127.5" y1="513.5" x2="143.0" y2="513.5"/>
<line x1="1148.5" y1="513.5" x2="1133.0" y2="513.5"/>
<line x1="127.5" y1="498.5" x2="159.0" y2="498.5"/>
<line x1="1148.5" y1="498.5" x2="1117.0" y2="498.5"/>
<line x1="127.5" y1="482.5" x2="143.0" y2="482.5"/>
<line x1="1148.5" y1="482.5" x2="1133.0" y2="482.5"/>
<line x1="127.5" y1="466.5" x2="143.0" y2="466.5"/>
<line x1="1148.5" y1="466.5" x2="1133.0" y2="466.5"/>
<line x1="127.5" y1="450.5" x2="143.0" y2="450.5"/>
<line x1="1148.5" y1="450.5" x2="1133.0" y2="450.5"/>
<line x1="127.5" y1="434.5" x2="143.0" y2="434.5"/>
<line x1="1148.5" y1="434.5" x2="1133.0" y2="434.5"/>
<line x1="127.5" y1="418.5" x2="159.0" y2="418.5"/>
<line x1="1148.5" y1="418.5" x2="1117.0" y2="418.5"/>
<line x1="127.5" y1="402.5" x2="143.0" y2="402.5"/>
<line x1="1148.5" y1="402.5" x2="1133.0" y2="402.5"/>
<line x1="127.5" y1="386.5" x2="143.0" y2="386.5"/>
<line x1="1148.5" y1="386.5" x2="1133.0" y2="386.5"/>
<line x1="127.5" y1="370.5" x2="143.0" y2="370.5"/>
<line x1="1148.5" y1="370.5" x2="1133.0" y2="370.5"/>
<line x1="127.5" y1="354.5" x2="143.0" y2="354.5"/>
<line x1="1148.5" y1="354.5" x2="1133.0" y2="354.5"/>
<line x1="127.5" y1="338.5" x2="159.0" y2="338.5"/>
<line x1="1148.5" y1="338.5" x2="1117.0" y2="338.5"/>
<line x1="127.5" y1="322.5" x2="143.0" y2="322.5"/>
<line x1="1148.5" y1="322.5" x2="1133.0" y2="322.5"/>
<line x1="127.5" y1="306.5" x2="143.0" y2="306.5"/>
<line x1="1148.5" y1="306.5" x2="1133.0" y2="306.5"/>
<line x1="127.5" y1="290.5" x2="143.0" y2="290.5"/>
<line x1="1148.5" y1="290.5" x2="1133.0" y2="290.5"/>
<line x1="127.5" y1="274.5" x2="143.0" y2="274.5"/>
<line x1="1148.5" y1="274.5" x2="1133.0" y2="274.5"/>
<line x1="127.5" y1="258.5" x2="159.0" y2="258.5"/>
<line x1="1148.5" y1="258.5" x2="1117.0" y2="258.5"/>
<line x1="127.5" y1="243.5" x2="143.0" y2="243.5"/>
<line x1="1148.5" y1="243.5" x2="1133.0" y2="243.5"/>
<line x1="127.5" y1="227.5" x2="143.0" y2="227.5"/>
<line x1="1148.5" y1="227.5" x2="1133.0" y2="227.5"/>
<line x1="127.5" y1="211.5" x2="143.0" y2="211.5"/>
<line x1="1148.5" y1="211.5" x2="1133.0" y2="211.5"/>
<line x1="127.5" y1="195.5" x2="143.0" y2="195.5"/>
<line x1="1148.5" y1="195.5" x2="1133.0" y2="195.5"/>
<line x1="127.5" y1="179.5" x2="159.0" y2="179.5"/>
<line x1="1148.5" y1="179.5" x2="1117.0" y2="179.5"/>
<line x1="127.5" y1="163.5" x2="143.0" y2="163.5"/>
<line x1="1148.5" y1="163.5" x2="1133.0" y2="163.5"/>
<line x1="127.5" y1="147.5" x2="143.0" y2="147.5"/>
<line x1="1148.5" y1="147.5" x2="1133.0" y2="147.5"/>
<line x1="127.5" y1="131.5" x2="143.0" y2="131.5"/>
<line x1="1148.5" y1="131.5" x2="1133.0" y2="131.5"/>
<line x1="127.5" y1="115.5" x2="143.0" y2="115.5"/>
<line x1="1148.5" y1="115.5" x2="1133.0" y2="115.5"/>
<line x1="127.5" y1="99.5" x2="159.0" y2="99.5"/>
<line x1="1148.5" y1="99.5" x2="1117.0" y2="99.5"/>
<line x1="168.5" y1="896.5" x2="168.5" y2="884.0"/>
<line x1="168.5" y1="99.5" x2="168.5" y2="112.0"/>
<line x1="219.5" y1="896.5" x2="219.5" y2="884.0"/>
<line x1="219.5" y1="99.5" x2="219.5" y2="112.0"/>
<line x1="270.5" y1="896.5" x2="270.5" y2="884.0"/>
<line x1="270.5" y1="99.5" x2="270.5" y2="112.0"/>
<line x1="321.5" y1="896.5" x2="321.5" y2="872.0"/>
<line x1="321.5" y1="99.5" x2="321.5" y2="124.0"/>
<line x1="372.5" y1="896.5" x2="372.5" y2="884.0"/>
<line x1="372.5" y1="99.5" x2="372.5" y2="112.0"/>
<line x1="423.5" y1="896.5" x2="423.5" y2="884.0"/>
<line x1="423.5" y1="99.5" x2="423.5" y2="112.0"/>
<line x1="474.5" y1="896.5" x2="474.5" y2="884.0"/>
<line x1="474.5" y1="99.5" x2="474.5" y2="112.0"/>
<line x1="525.5" y1="896.5" x2="525.5" y2="872.0"/>
<line x1="525.5" y1="99.5" x2="525.5" y2="124.0"/>
<line x1="576.5" y1="896.5" x2="576.5" y2="884.0"/>
<line x1="576.5" y1="99.5" x2="576.5" y2="112.0"/>
<line x1="627.5" y1="896.5" x2="627.5" y2="884.0"/>
<line x1="627.5" y1="99.5" x2="627.5" y2="112.0"/>
<line x1="678.5" y1="896.5" x2="678.5" y2="884.0"/>
<line x1="678.5" y1="99.5" x2="678.5" y2="112.0"/>
<line x1="729.5" y1="896.5" x2="729.5" y2="872.0"/>
<line x1="729.5" y1="99.5" x2="729.5" y2="124.0"/>
<line x1="780.5" y1="896.5" x2="780.5" y2="884.0"/>
<line x1="780.5" y1="99.5" x2="780.5" y2="112.0"/>
<line x1="831.5" y1="896.5" x2="831.5" y2="884.0"/>
<line x1="831.5" y1="99.5" x2="831.5" y2="112.0"/>
<line x1="883.5" y1="896.5" x2="883.5" y2="884.0"/>
<line x1="883.5" y1="99.5" x2="883.5" y2="112.0"/>
<line x1="934.5" y1="896.5" x2="934.5" y2="872.0"/>
<line x1="934.5" y1="99.5" x2="934.5" y2="124.0"/>
<line x1="985.5" y1="896.5" x2="985.5" y2="884.0"/>
<line x1="985.5" y1="99.5" x2="985.5" y2="112.0"/>
<line x1="1036.5" y1="896.5" x2="1036.5" y2="884.0"/>
<line x1="1036.5" y1="99.5" x2="1036.5" y2="112.0"/>
<line x1="1087.5" y1="896.5" x2="1087.5" y2="884.0"/>
<line x1="1087.5" y1="99.5" x2="1087.5" y2="112.0"/>
<line x1="1138.5" y1="896.5" x2="1138.5" y2="872.0"/>
<line x1="1138.5" y1="99.5" x2="1138.5" y2="124.0"/>
</g>
<g clip-path="url(#fr)">
<g stroke="#ff0000" stroke-width="1" shape-rendering="crispEdges" fill="none">
<line x1="127.5" y1="371.5" x2="130.0" y2="371.5"/>
<line x1="135.0" y1="371.5" x2="138" y2="371.5"/>
<line x1="132.5" y1="368.0" x2="132.5" y2="374.0"/>
<line x1="137" y1="436.5" x2="140.0" y2="436.5"/>
<line x1="145.0" y1="436.5" x2="149" y2="436.5"/>
<line x1="142.5" y1="433.0" x2="142.5" y2="439.0"/>
<line x1="148" y1="360.5" x2="151.0" y2="360.5"/>
<line x1="156.0" y1="360.5" x2="159" y2="360.5"/>
<line x1="153.5" y1="357.0" x2="153.5" y2="363.0"/>
<line x1="158" y1="405.5" x2="161.0" y2="405.5"/>
<line x1="166.0" y1="405.5" x2="169" y2="405.5"/>
<line x1="163.5" y1="402.0" x2="163.5" y2="408.0"/>
<line x1="168" y1="421.5" x2="171.0" y2="421.5"/>
<line x1="176.0" y1="421.5" x2="179" y2="421.5"/>
<line x1="173.5" y1="418.0" x2="173.5" y2="424.0"/>
<line x1="178" y1="399.5" x2="181.0" y2="399.5"/>
<line x1="186.0" y1="399.5" x2="189" y2="399.5"/>
<line x1="183.5" y1="396.0" x2="183.5" y2="402.0"/>
<line x1="188" y1="354.5" x2="191.0" y2="354.5"/>
<line x1="196.0" y1="354.5" x2="200" y2="354.5"/>
<line x1="193.5" y1="351.0" x2="193.5" y2="357.0"/>
<line x1="199" y1="323.5" x2="202.0" y2="323.5"/>
<line x1="207.0" y1="323.5" x2="210" y2="323.5"/>
<line x1="204.5" y1="320.0" x2="204.5" y2="326.0"/>
<line x1="209" y1="310.5" x2="212.0" y2="310.5"/>
<line x1="217.0" y1="310.5" x2="220" y2="310.5"/>
<line x1="214.5" y1="307.0" x2="214.5" y2="313.0"/>
<line x1="219" y1="308.5" x2="222.0" y2="308.5"/>
<line x1="227.0" y1="308.5" x2="230" y2="308.5"/>
<line x1="224.5" y1="305.0" x2="224.5" y2="311.0"/>
<line x1="229" y1="309.5" x2="232.0" y2="309.5"/>
<line x1="237.0" y1="309.5" x2="240" y2="309.5"/>
<line x1="234.5" y1="306.0" x2="234.5" y2="312.0"/>
<line x1="239" y1="309.5" x2="242.0" y2="309.5"/>
<line x1="247.0" y1="309.5" x2="251" y2="309.5"/>
<line x1="244.5" y1="306.0" x2="244.5" y2="312.0"/>
<line x1="250" y1="313.5" x2="253.0" y2="313.5"/>
<line x1="258.0" y1="313.5" x2="261" y2="313.5"/>
<line x1="255.5" y1="310.0" x2="255.5" y2="316.0"/>
<line x1="260" y1="316.5" x2="263.0" y2="316.5"/>
<line x1="268.0" y1="316.5" x2="271" y2="316.5"/>
<line x1="265.5" y1="313.0" x2="265.5" y2="319.0"/>
<line x1="270" y1="328.5" x2="273.0" y2="328.5"/>
<line x1="278.0" y1="328.5" x2="281" y2="328.5"/>
<line x1="275.5" y1="325.0" x2="275.5" y2="331.0"/>
<line x1="280" y1="327.5" x2="283.0" y2="327.5"/>
<line x1="288.0" y1="327.5" x2="291" y2="327.5"/>
<line x1="285.5" y1="324.0" x2="285.5" y2="330.0"/>
<line x1="290" y1="338.5" x2="294.0" y2="338.5"/>
<line x1="299.0" y1="338.5" x2="302" y2="338.5"/>
<line x1="296.5" y1="335.0" x2="296.5" y2="341.0"/>
<line x1="301" y1="340.5" x2="304.0" y2="340.5"/>
<line x1="309.0" y1="340.5" x2="312" y2="340.5"/>
<line x1="306.5" y1="337.0" x2="306.5" y2="343.0"/>
<line x1="311" y1="344.5" x2="314.0" y2="344.5"/>
<line x1="319.0" y1="344.5" x2="322" y2="344.5"/>
<line x1="316.5" y1="341.0" x2="316.5" y2="347.0"/>
<line x1="321" y1="351.5" x2="324.0" y2="351.5"/>
<line x1="329.0" y1="351.5" x2="332" y2="351.5"/>
<line x1="326.5" y1="348.0" x2="326.5" y2="354.0"/>
<line x1="331" y1="357.5" x2="334.0" y2="357.5"/>
<line x1="339.0" y1="357.5" x2="342" y2="357.5"/>
<line x1="336.5" y1="354.0" x2="336.5" y2="360.0"/>
<line x1="341" y1="368.5" x2="345.0" y2="368.5"/>
<line x1="350.0" y1="368.5" x2="353" y2="368.5"/>
<line x1="347.5" y1="365.0" x2="347.5" y2="371.0"/>
<line x1="352" y1="369.5" x2="355.0" y2="369.5"/>
<line x1="360.0" y1="369.5" x2="363" y2="369.5"/>
<line x1="357.5" y1="366.0" x2="357.5" y2="372.0"/>
<line x1="362" y1="371.5" x2="365.0" y2="371.5"/>
<line x1="370.0" y1="371.5" x2="373" y2="371.5"/>
<line x1="367.5" y1="368.0" x2="367.5" y2="374.0"/>
<line x1="372" y1="376.5" x2="375.0" y2="376.5"/>
<line x1="380.0" y1="376.5" x2="383" y2="376.5"/>
<line x1="377.5" y1="373.0" x2="377.5" y2="379.0"/>
<line x1="382" y1="378.5" x2="385.0" y2="378.5"/>
<line x1="390.0" y1="378.5" x2="394" y2="378.5"/>
<line x1="387.5" y1="375.0" x2="387.5" y2="381.0"/>
<line x1="393" y1="382.5" x2="396.0" y2="382.5"/>
<line x1="401.0" y1="382.5" x2="404" y2="382.5"/>
<line x1="398.5" y1="379" x2="398.5" y2="385"/>
<line x1="403" y1="389.5" x2="406.0" y2="389.5"/>
<line x1="411.0" y1="389.5" x2="414" y2="389.5"/>
<line x1="408.5" y1="386" x2="408.5" y2="392"/>
<line x1="413" y1="383.5" x2="416.0" y2="383.5"/>
<line x1="421.0" y1="383.5" x2="424" y2="383.5"/>
<line x1="418.5" y1="380" x2="418.5" y2="387"/>
<line x1="423" y1="388.5" x2="426.0" y2="388.5"/>
<line x1="431.0" y1="388.5" x2="434" y2="388.5"/>
<line x1="428.5" y1="385" x2="428.5" y2="392"/>
<line x1="433" y1="402.5" x2="436.0" y2="402.5"/>
<line x1="441.0" y1="402.5" x2="445" y2="402.5"/>
<line x1="438.5" y1="399" x2="438.5" y2="406"/>
<line x1="444" y1="387.5" x2="447.0" y2="387.5"/>
<line x1="452.0" y1="387.5" x2="455" y2="387.5"/>
<line x1="449.5" y1="383" x2="449.5" y2="391"/>
<line x1="454" y1="385.5" x2="457.0" y2="385.5"/>
<line x1="462.0" y1="385.5" x2="465" y2="385.5"/>
<line x1="459.5" y1="382" x2="459.5" y2="389"/>
<line x1="464" y1="397.5" x2="467.0" y2="397.5"/>
<line x1="472.0" y1="397.5" x2="475" y2="397.5"/>
<line x1="469.5" y1="393" x2="469.5" y2="401"/>
<line x1="474" y1="399.5" x2="477.0" y2="399.5"/>
<line x1="482.0" y1="399.5" x2="485" y2="399.5"/>
<line x1="479.5" y1="396" x2="479.5" y2="404"/>
<line x1="484" y1="406.5" x2="487.0" y2="406.5"/>
<line x1="492.0" y1="406.5" x2="496" y2="406.5"/>
<line x1="489.5" y1="402" x2="489.5" y2="410"/>
<line x1="495" y1="412.5" x2="498.0" y2="412.5"/>
<line x1="503.0" y1="412.5" x2="506" y2="412.5"/>
<line x1="500.5" y1="408" x2="500.5" y2="417"/>
<line x1="505" y1="418.5" x2="508.0" y2="418.5"/>
<line x1="513.0" y1="418.5" x2="516" y2="418.5"/>
<line x1="510.5" y1="413" x2="510.5" y2="423"/>
<line x1="515" y1="421.5" x2="518.0" y2="421.5"/>
<line x1="523.0" y1="421.5" x2="526" y2="421.5"/>
<line x1="520.5" y1="417" x2="520.5" y2="426"/>
<line x1="525" y1="426.5" x2="528.0" y2="426.5"/>
<line x1="533.0" y1="426.5" x2="536" y2="426.5"/>
<line x1="530.5" y1="421" x2="530.5" y2="431"/>
<line x1="535" y1="433.5" x2="539.0" y2="433.5"/>
<line x1="544.0" y1="433.5" x2="547" y2="433.5"/>
<line x1="541.5" y1="429" x2="541.5" y2="438"/>
<line x1="546" y1="438.5" x2="549.0" y2="438.5"/>
<line x1="554.0" y1="438.5" x2="557" y2="438.5"/>
<line x1="551.5" y1="433" x2="551.5" y2="444"/>
<line x1="556" y1="441.5" x2="559.0" y2="441.5"/>
<line x1="564.0" y1="441.5" x2="567" y2="441.5"/>
<line x1="561.5" y1="437" x2="561.5" y2="447"/>
<line x1="566" y1="438.5" x2="569.0" y2="438.5"/>
<line x1="574.0" y1="438.5" x2="577" y2="438.5"/>
<line x1="571.5" y1="433" x2="571.5" y2="444"/>
<line x1="576" y1="446.5" x2="579.0" y2="446.5"/>
<line x1="584.0" y1="446.5" x2="587" y2="446.5"/>
<line x1="581.5" y1="441" x2="581.5" y2="452"/>
<line x1="586" y1="460.5" x2="590.0" y2="460.5"/>
<line x1="595.0" y1="460.5" x2="598" y2="460.5"/>
<line x1="592.5" y1="454" x2="592.5" y2="466"/>
<line x1="597" y1="453.5" x2="600.0" y2="453.5"/>
<line x1="605.0" y1="453.5" x2="608" y2="453.5"/>
<line x1="602.5" y1="448" x2="602.5" y2="459"/>
<line x1="607" y1="448.5" x2="610.0" y2="448.5"/>
<line x1="615.0" y1="448.5" x2="618" y2="448.5"/>
<line x1="612.5" y1="443" x2="612.5" y2="455"/>
<line x1="617" y1="461.5" x2="620.0" y2="461.5"/>
<line x1="625.0" y1="461.5" x2="628" y2="461.5"/>
<line x1="622.5" y1="455" x2="622.5" y2="467"/>
<line x1="627" y1="465.5" x2="630.0" y2="465.5"/>
<line x1="635.0" y1="465.5" x2="639" y2="465.5"/>
<line x1="632.5" y1="459" x2="632.5" y2="472"/>
<line x1="638" y1="472.5" x2="641.0" y2="472.5"/>
<line x1="646.0" y1="472.5" x2="649" y2="472.5"/>
<line x1="643.5" y1="466" x2="643.5" y2="479"/>
<line x1="648" y1="468.5" x2="651.0" y2="468.5"/>
<line x1="656.0" y1="468.5" x2="659" y2="468.5"/>
<line x1="653.5" y1="462" x2="653.5" y2="475"/>
<line x1="658" y1="480.5" x2="661.0" y2="480.5"/>
<line x1="666.0" y1="480.5" x2="669" y2="480.5"/>
<line x1="663.5" y1="474" x2="663.5" y2="487"/>
<line x1="668" y1="467.5" x2="671.0" y2="467.5"/>
<line x1="676.0" y1="467.5" x2="679" y2="467.5"/>
<line x1="673.5" y1="461" x2="673.5" y2="475"/>
<line x1="678" y1="482.5" x2="681.0" y2="482.5"/>
<line x1="686.0" y1="482.5" x2="690" y2="482.5"/>
<line x1="683.5" y1="475" x2="683.5" y2="489"/>
<line x1="689" y1="465.5" x2="692.0" y2="465.5"/>
<line x1="697.0" y1="465.5" x2="700" y2="465.5"/>
<line x1="694.5" y1="458" x2="694.5" y2="473"/>
<line x1="699" y1="475.5" x2="702.0" y2="475.5"/>
<line x1="707.0" y1="475.5" x2="710" y2="475.5"/>
<line x1="704.5" y1="469" x2="704.5" y2="483"/>
<line x1="709" y1="483.5" x2="712.0" y2="483.5"/>
<line x1="717.0" y1="483.5" x2="720" y2="483.5"/>
<line x1="714.5" y1="476" x2="714.5" y2="491"/>
<line x1="719" y1="476.5" x2="722.0" y2="476.5"/>
<line x1="727.0" y1="476.5" x2="730" y2="476.5"/>
<line x1="724.5" y1="469" x2="724.5" y2="484"/>
<line x1="729" y1="493.5" x2="732.0" y2="493.5"/>
<line x1="737.0" y1="493.5" x2="741" y2="493.5"/>
<line x1="734.5" y1="485" x2="734.5" y2="501"/>
<line x1="740" y1="492.5" x2="743.0" y2="492.5"/>
<line x1="748.0" y1="492.5" x2="751" y2="492.5"/>
<line x1="745.5" y1="485" x2="745.5" y2="501"/>
<line x1="750" y1="489.5" x2="753.0" y2="489.5"/>
<line x1="758.0" y1="489.5" x2="761" y2="489.5"/>
<line x1="755.5" y1="481" x2="755.5" y2="498"/>
<line x1="760" y1="504.5" x2="763.0" y2="504.5"/>
<line x1="768.0" y1="504.5" x2="771" y2="504.5"/>
<line x1="765.5" y1="496" x2="765.5" y2="513"/>
<line x1="770" y1="476.5" x2="773.0" y2="476.5"/>
<line x1="778.0" y1="476.5" x2="781" y2="476.5"/>
<line x1="775.5" y1="468" x2="775.5" y2="485"/>
<line x1="780" y1="501.5" x2="784.0" y2="501.5"/>
<line x1="789.0" y1="501.5" x2="792" y2="501.5"/>
<line x1="786.5" y1="493" x2="786.5" y2="510"/>
<line x1="791" y1="493.5" x2="794.0" y2="493.5"/>
<line x1="799.0" y1="493.5" x2="802" y2="493.5"/>
<line x1="796.5" y1="485" x2="796.5" y2="502"/>
<line x1="801" y1="501.5" x2="804.0" y2="501.5"/>
<line x1="809.0" y1="501.5" x2="812" y2="501.5"/>
<line x1="806.5" y1="493" x2="806.5" y2="511"/>
<line x1="811" y1="496.5" x2="814.0" y2="496.5"/>
<line x1="819.0" y1="496.5" x2="822" y2="496.5"/>
<line x1="816.5" y1="488" x2="816.5" y2="505"/>
<line x1="821" y1="488.5" x2="824.0" y2="488.5"/>
<line x1="829.0" y1="488.5" x2="832" y2="488.5"/>
<line x1="826.5" y1="480" x2="826.5" y2="498"/>
<line x1="831" y1="504.5" x2="835.0" y2="504.5"/>
<line x1="840.0" y1="504.5" x2="843" y2="504.5"/>
<line x1="837.5" y1="496" x2="837.5" y2="514"/>
<line x1="842" y1="518.5" x2="845.0" y2="518.5"/>
<line x1="850.0" y1="518.5" x2="853" y2="518.5"/>
<line x1="847.5" y1="509" x2="847.5" y2="528"/>
<line x1="852" y1="518.5" x2="855.0" y2="518.5"/>
<line x1="860.0" y1="518.5" x2="863" y2="518.5"/>
<line x1="857.5" y1="509" x2="857.5" y2="528"/>
<line x1="862" y1="501.5" x2="865.0" y2="501.5"/>
<line x1="870.0" y1="501.5" x2="873" y2="501.5"/>
<line x1="867.5" y1="492" x2="867.5" y2="511"/>
<line x1="872" y1="520.5" x2="875.0" y2="520.5"/>
<line x1="880.0" y1="520.5" x2="883" y2="520.5"/>
<line x1="877.5" y1="511" x2="877.5" y2="530"/>
<line x1="882" y1="491.5" x2="886.0" y2="491.5"/>
<line x1="891.0" y1="491.5" x2="894" y2="491.5"/>
<line x1="888.5" y1="481" x2="888.5" y2="501"/>
<line x1="893" y1="490.5" x2="896.0" y2="490.5"/>
<line x1="901.0" y1="490.5" x2="904" y2="490.5"/>
<line x1="898.5" y1="481" x2="898.5" y2="501"/>
<line x1="903" y1="514.5" x2="906.0" y2="514.5"/>
<line x1="911.0" y1="514.5" x2="914" y2="514.5"/>
<line x1="908.5" y1="505" x2="908.5" y2="525"/>
<line x1="913" y1="512.5" x2="916.0" y2="512.5"/>
<line x1="921.0" y1="512.5" x2="924" y2="512.5"/>
<line x1="918.5" y1="503" x2="918.5" y2="523"/>
<line x1="923" y1="509.5" x2="926.0" y2="509.5"/>
<line x1="931.0" y1="509.5" x2="935" y2="509.5"/>
<line x1="928.5" y1="499" x2="928.5" y2="520"/>
<line x1="934" y1="494.5" x2="937.0" y2="494.5"/>
<line x1="942.0" y1="494.5" x2="945" y2="494.5"/>
<line x1="939.5" y1="484" x2="939.5" y2="505"/>
<line x1="944" y1="486.5" x2="947.0" y2="486.5"/>
<line x1="952.0" y1="486.5" x2="955" y2="486.5"/>
<line x1="949.5" y1="476" x2="949.5" y2="497"/>
<line x1="954" y1="499.5" x2="957.0" y2="499.5"/>
<line x1="962.0" y1="499.5" x2="965" y2="499.5"/>
<line x1="959.5" y1="488" x2="959.5" y2="510"/>
<line x1="964" y1="488.5" x2="967.0" y2="488.5"/>
<line x1="972.0" y1="488.5" x2="975" y2="488.5"/>
<line x1="969.5" y1="478" x2="969.5" y2="500"/>
<line x1="974" y1="503.5" x2="977.0" y2="503.5"/>
<line x1="982.0" y1="503.5" x2="986" y2="503.5"/>
<line x1="979.5" y1="492" x2="979.5" y2="515"/>
<line x1="985" y1="505.5" x2="988.0" y2="505.5"/>
<line x1="993.0" y1="505.5" x2="996" y2="505.5"/>
<line x1="990.5" y1="494" x2="990.5" y2="517"/>
<line x1="995" y1="500.5" x2="998.0" y2="500.5"/>
<line x1="1003.0" y1="500.5" x2="1006" y2="500.5"/>
<line x1="1000.5" y1="489" x2="1000.5" y2="512"/>
<line x1="1005" y1="512.5" x2="1008.0" y2="512.5"/>
<line x1="1013.0" y1="512.5" x2="1016" y2="512.5"/>
<line x1="1010.5" y1="502" x2="1010.5" y2="524"/>
<line x1="1015" y1="503.5" x2="1018.0" y2="503.5"/>
<line x1="1023.0" y1="503.5" x2="1026" y2="503.5"/>
<line x1="1020.5" y1="492" x2="1020.5" y2="516"/>
<line x1="1025" y1="497.5" x2="1029.0" y2="497.5"/>
<line x1="1034.0" y1="497.5" x2="1037" y2="497.5"/>
<line x1="1031.5" y1="486" x2="1031.5" y2="510"/>
<line x1="1036" y1="509.5" x2="1039.0" y2="509.5"/>
<line x1="1044.0" y1="509.5" x2="1047" y2="509.5"/>
<line x1="1041.5" y1="497" x2="1041.5" y2="522"/>
<line x1="1046" y1="507.5" x2="1049.0" y2="507.5"/>
<line x1="1054.0" y1="507.5" x2="1057" y2="507.5"/>
<line x1="1051.5" y1="495" x2="1051.5" y2="520"/>
<line x1="1056" y1="505.5" x2="1059.0" y2="505.5"/>
<line x1="1064.0" y1="505.5" x2="1067" y2="505.5"/>
<line x1="1061.5" y1="494" x2="1061.5" y2="518"/>
<line x1="1066" y1="494.5" x2="1069.0" y2="494.5"/>
<line x1="1074.0" y1="494.5" x2="1077" y2="494.5"/>
<line x1="1071.5" y1="481" x2="1071.5" y2="507"/>
<line x1="1076" y1="517.5" x2="1080.0" y2="517.5"/>
<line x1="1085.0" y1="517.5" x2="1088" y2="517.5"/>
<line x1="1082.5" y1="504" x2="1082.5" y2="530"/>
<line x1="1087" y1="510.5" x2="1090.0" y2="510.5"/>
<line x1="1095.0" y1="510.5" x2="1098" y2="510.5"/>
<line x1="1092.5" y1="498" x2="1092.5" y2="523"/>
<line x1="1097" y1="515.5" x2="1100.0" y2="515.5"/>
<line x1="1105.0" y1="515.5" x2="1108" y2="515.5"/>
<line x1="1102.5" y1="502" x2="1102.5" y2="528"/>
<line x1="1107" y1="535.5" x2="1110.0" y2="535.5"/>
<line x1="1115.0" y1="535.5" x2="1118" y2="535.5"/>
<line x1="1112.5" y1="523" x2="1112.5" y2="549"/>
<line x1="1117" y1="509.5" x2="1120.0" y2="509.5"/>
<line x1="1125.0" y1="509.5" x2="1128" y2="509.5"/>
<line x1="1122.5" y1="497" x2="1122.5" y2="523"/>
<line x1="1127" y1="511.5" x2="1131.0" y2="511.5"/>
<line x1="1136.0" y1="511.5" x2="1139" y2="511.5"/>
<line x1="1133.5" y1="498" x2="1133.5" y2="525"/>
<line x1="1138" y1="494.5" x2="1141.0" y2="494.5"/>
<line x1="1146.0" y1="494.5" x2="1149" y2="494.5"/>
<line x1="1143.5" y1="481" x2="1143.5" y2="508"/>
</g>
<g fill="#ff0000" stroke="none">
<path d="M131 369h2v1h-2zM131 370h3v1h-3zM130 371h4v1h-4zM130 372h5v1h-5zM129 373h6v1h-6z" shape-rendering="crispEdges"/>
<path d="M141 434h2v1h-2zM141 435h3v1h-3zM140 436h4v1h-4zM140 437h5v1h-5zM139 438h6v1h-6z" shape-rendering="crispEdges"/>
<path d="M152 358h2v1h-2zM152 359h3v1h-3zM151 360h4v1h-4zM151 361h5v1h-5zM150 362h6v1h-6z" shape-rendering="crispEdges"/>
<path d="M162 403h2v1h-2zM162 404h3v1h-3zM161 405h4v1h-4zM161 406h5v1h-5zM160 407h6v1h-6z" shape-rendering="crispEdges"/>
<path d="M172 419h2v1h-2zM172 420h3v1h-3zM171 421h4v1h-4zM171 422h5v1h-5zM170 423h6v1h-6z" shape-rendering="crispEdges"/>
<path d="M182 397h2v1h-2zM182 398h3v1h-3zM181 399h4v1h-4zM181 400h5v1h-5zM180 401h6v1h-6z" shape-rendering="crispEdges"/>
<path d="M192 352h2v1h-2zM192 353h3v1h-3zM191 354h4v1h-4zM191 355h5v1h-5zM190 356h6v1h-6z" shape-rendering="crispEdges"/>
<path d="M203 321h2v1h-2zM203 322h3v1h-3zM202 323h4v1h-4zM202 324h5v1h-5zM201 325h6v1h-6z" shape-rendering="crispEdges"/>
<path d="M213 308h2v1h-2zM213 309h3v1h-3zM212 310h4v1h-4zM212 311h5v1h-5zM211 312h6v1h-6z" shape-rendering="crispEdges"/>
<path d="M223 306h2v1h-2zM223 307h3v1h-3zM222 308h4v1h-4zM222 309h5v1h-5zM221 310h6v1h-6z" shape-rendering="crispEdges"/>
<path d="M233 307h2v1h-2zM233 308h3v1h-3zM232 309h4v1h-4zM232 310h5v1h-5zM231 311h6v1h-6z" shape-rendering="crispEdges"/>
<path d="M243 307h2v1h-2zM243 308h3v1h-3zM242 309h4v1h-4zM242 310h5v1h-5zM241 311h6v1h-6z" shape-rendering="crispEdges"/>
<path d="M254 311h2v1h-2zM254 312h3v1h-3zM253 313h4v1h-4zM253 314h5v1h-5zM252 315h6v1h-6z" shape-rendering="crispEdges"/>
<path d="M264 314h2v1h-2zM264 315h3v1h-3zM263 316h4v1h-4zM263 317h5v1h-5zM262 318h6v1h-6z" shape-rendering="crispEdges"/>
<path d="M274 326h2v1h-2zM274 327h3v1h-3zM273 328h4v1h-4zM273 329h5v1h-5zM272 330h6v1h-6z" shape-rendering="crispEdges"/>
<path d="M284 325h2v1h-2zM284 326h3v1h-3zM283 327h4v1h-4zM283 328h5v1h-5zM282 329h6v1h-6z" shape-rendering="crispEdges"/>
<path d="M295 336h2v1h-2zM295 337h3v1h-3zM294 338h4v1h-4zM294 339h5v1h-5zM293 340h6v1h-6z" shape-rendering="crispEdges"/>
<path d="M305 338h2v1h-2zM305 339h3v1h-3zM304 340h4v1h-4zM304 341h5v1h-5zM303 342h6v1h-6z" shape-rendering="crispEdges"/>
<path d="M315 342h2v1h-2zM315 343h3v1h-3zM314 344h4v1h-4zM314 345h5v1h-5zM313 346h6v1h-6z" shape-rendering="crispEdges"/>
<path d="M325 349h2v1h-2zM325 350h3v1h-3zM324 351h4v1h-4zM324 352h5v1h-5zM323 353h6v1h-6z" shape-rendering="crispEdges"/>
<path d="M335 355h2v1h-2zM335 356h3v1h-3zM334 357h4v1h-4zM334 358h5v1h-5zM333 359h6v1h-6z" shape-rendering="crispEdges"/>
<path d="M346 366h2v1h-2zM346 367h3v1h-3zM345 368h4v1h-4zM345 369h5v1h-5zM344 370h6v1h-6z" shape-rendering="crispEdges"/>
<path d="M356 367h2v1h-2zM356 368h3v1h-3zM355 369h4v1h-4zM355 370h5v1h-5zM354 371h6v1h-6z" shape-rendering="crispEdges"/>
<path d="M366 369h2v1h-2zM366 370h3v1h-3zM365 371h4v1h-4zM365 372h5v1h-5zM364 373h6v1h-6z" shape-rendering="crispEdges"/>
<path d="M376 374h2v1h-2zM376 375h3v1h-3zM375 376h4v1h-4zM375 377h5v1h-5zM374 378h6v1h-6z" shape-rendering="crispEdges"/>
<path d="M386 376h2v1h-2zM386 377h3v1h-3zM385 378h4v1h-4zM385 379h5v1h-5zM384 380h6v1h-6z" shape-rendering="crispEdges"/>
<path d="M397 380h2v1h-2zM397 381h3v1h-3zM396 382h4v1h-4zM396 383h5v1h-5zM395 384h6v1h-6z" shape-rendering="crispEdges"/>
<path d="M407 387h2v1h-2zM407 388h3v1h-3zM406 389h4v1h-4zM406 390h5v1h-5zM405 391h6v1h-6z" shape-rendering="crispEdges"/>
<path d="M417 381h2v1h-2zM417 382h3v1h-3zM416 383h4v1h-4zM416 384h5v1h-5zM415 385h6v1h-6z" shape-rendering="crispEdges"/>
<path d="M427 386h2v1h-2zM427 387h3v1h-3zM426 388h4v1h-4zM426 389h5v1h-5zM425 390h6v1h-6z" shape-rendering="crispEdges"/>
<path d="M437 400h2v1h-2zM437 401h3v1h-3zM436 402h4v1h-4zM436 403h5v1h-5zM435 404h6v1h-6z" shape-rendering="crispEdges"/>
<path d="M448 385h2v1h-2zM448 386h3v1h-3zM447 387h4v1h-4zM447 388h5v1h-5zM446 389h6v1h-6z" shape-rendering="crispEdges"/>
<path d="M458 383h2v1h-2zM458 384h3v1h-3zM457 385h4v1h-4zM457 386h5v1h-5zM456 387h6v1h-6z" shape-rendering="crispEdges"/>
<path d="M468 395h2v1h-2zM468 396h3v1h-3zM467 397h4v1h-4zM467 398h5v1h-5zM466 399h6v1h-6z" shape-rendering="crispEdges"/>
<path d="M478 397h2v1h-2zM478 398h3v1h-3zM477 399h4v1h-4zM477 400h5v1h-5zM476 401h6v1h-6z" shape-rendering="crispEdges"/>
<path d="M488 404h2v1h-2zM488 405h3v1h-3zM487 406h4v1h-4zM487 407h5v1h-5zM486 408h6v1h-6z" shape-rendering="crispEdges"/>
<path d="M499 410h2v1h-2zM499 411h3v1h-3zM498 412h4v1h-4zM498 413h5v1h-5zM497 414h6v1h-6z" shape-rendering="crispEdges"/>
<path d="M509 416h2v1h-2zM509 417h3v1h-3zM508 418h4v1h-4zM508 419h5v1h-5zM507 420h6v1h-6z" shape-rendering="crispEdges"/>
<path d="M519 419h2v1h-2zM519 420h3v1h-3zM518 421h4v1h-4zM518 422h5v1h-5zM517 423h6v1h-6z" shape-rendering="crispEdges"/>
<path d="M529 424h2v1h-2zM529 425h3v1h-3zM528 426h4v1h-4zM528 427h5v1h-5zM527 428h6v1h-6z" shape-rendering="crispEdges"/>
<path d="M540 431h2v1h-2zM540 432h3v1h-3zM539 433h4v1h-4zM539 434h5v1h-5zM538 435h6v1h-6z" shape-rendering="crispEdges"/>
<path d="M550 436h2v1h-2zM550 437h3v1h-3zM549 438h4v1h-4zM549 439h5v1h-5zM548 440h6v1h-6z" shape-rendering="crispEdges"/>
<path d="M560 439h2v1h-2zM560 440h3v1h-3zM559 441h4v1h-4zM559 442h5v1h-5zM558 443h6v1h-6z" shape-rendering="crispEdges"/>
<path d="M570 436h2v1h-2zM570 437h3v1h-3zM569 438h4v1h-4zM569 439h5v1h-5zM568 440h6v1h-6z" shape-rendering="crispEdges"/>
<path d="M580 444h2v1h-2zM580 445h3v1h-3zM579 446h4v1h-4zM579 447h5v1h-5zM578 448h6v1h-6z" shape-rendering="crispEdges"/>
<path d="M591 458h2v1h-2zM591 459h3v1h-3zM590 460h4v1h-4zM590 461h5v1h-5zM589 462h6v1h-6z" shape-rendering="crispEdges"/>
<path d="M601 451h2v1h-2zM601 452h3v1h-3zM600 453h4v1h-4zM600 454h5v1h-5zM599 455h6v1h-6z" shape-rendering="crispEdges"/>
<path d="M611 446h2v1h-2zM611 447h3v1h-3zM610 448h4v1h-4zM610 449h5v1h-5zM609 450h6v1h-6z" shape-rendering="crispEdges"/>
<path d="M621 459h2v1h-2zM621 460h3v1h-3zM620 461h4v1h-4zM620 462h5v1h-5zM619 463h6v1h-6z" shape-rendering="crispEdges"/>
<path d="M631 463h2v1h-2zM631 464h3v1h-3zM630 465h4v1h-4zM630 466h5v1h-5zM629 467h6v1h-6z" shape-rendering="crispEdges"/>
<path d="M642 470h2v1h-2zM642 471h3v1h-3zM641 472h4v1h-4zM641 473h5v1h-5zM640 474h6v1h-6z" shape-rendering="crispEdges"/>
<path d="M652 466h2v1h-2zM652 467h3v1h-3zM651 468h4v1h-4zM651 469h5v1h-5zM650 470h6v1h-6z" shape-rendering="crispEdges"/>
<path d="M662 478h2v1h-2zM662 479h3v1h-3zM661 480h4v1h-4zM661 481h5v1h-5zM660 482h6v1h-6z" shape-rendering="crispEdges"/>
<path d="M672 465h2v1h-2zM672 466h3v1h-3zM671 467h4v1h-4zM671 468h5v1h-5zM670 469h6v1h-6z" shape-rendering="crispEdges"/>
<path d="M682 480h2v1h-2zM682 481h3v1h-3zM681 482h4v1h-4zM681 483h5v1h-5zM680 484h6v1h-6z" shape-rendering="crispEdges"/>
<path d="M693 463h2v1h-2zM693 464h3v1h-3zM692 465h4v1h-4zM692 466h5v1h-5zM691 467h6v1h-6z" shape-rendering="crispEdges"/>
<path d="M703 473h2v1h-2zM703 474h3v1h-3zM702 475h4v1h-4zM702 476h5v1h-5zM701 477h6v1h-6z" shape-rendering="crispEdges"/>
<path d="M713 481h2v1h-2zM713 482h3v1h-3zM712 483h4v1h-4zM712 484h5v1h-5zM711 485h6v1h-6z" shape-rendering="crispEdges"/>
<path d="M723 474h2v1h-2zM723 475h3v1h-3zM722 476h4v1h-4zM722 477h5v1h-5zM721 478h6v1h-6z" shape-rendering="crispEdges"/>
<path d="M733 491h2v1h-2zM733 492h3v1h-3zM732 493h4v1h-4zM732 494h5v1h-5zM731 495h6v1h-6z" shape-rendering="crispEdges"/>
<path d="M744 490h2v1h-2zM744 491h3v1h-3zM743 492h4v1h-4zM743 493h5v1h-5zM742 494h6v1h-6z" shape-rendering="crispEdges"/>
<path d="M754 487h2v1h-2zM754 488h3v1h-3zM753 489h4v1h-4zM753 490h5v1h-5zM752 491h6v1h-6z" shape-rendering="crispEdges"/>
<path d="M764 502h2v1h-2zM764 503h3v1h-3zM763 504h4v1h-4zM763 505h5v1h-5zM762 506h6v1h-6z" shape-rendering="crispEdges"/>
<path d="M774 474h2v1h-2zM774 475h3v1h-3zM773 476h4v1h-4zM773 477h5v1h-5zM772 478h6v1h-6z" shape-rendering="crispEdges"/>
<path d="M785 499h2v1h-2zM785 500h3v1h-3zM784 501h4v1h-4zM784 502h5v1h-5zM783 503h6v1h-6z" shape-rendering="crispEdges"/>
<path d="M795 491h2v1h-2zM795 492h3v1h-3zM794 493h4v1h-4zM794 494h5v1h-5zM793 495h6v1h-6z" shape-rendering="crispEdges"/>
<path d="M805 499h2v1h-2zM805 500h3v1h-3zM804 501h4v1h-4zM804 502h5v1h-5zM803 503h6v1h-6z" shape-rendering="crispEdges"/>
<path d="M815 494h2v1h-2zM815 495h3v1h-3zM814 496h4v1h-4zM814 497h5v1h-5zM813 498h6v1h-6z" shape-rendering="crispEdges"/>
<path d="M825 486h2v1h-2zM825 487h3v1h-3zM824 488h4v1h-4zM824 489h5v1h-5zM823 490h6v1h-6z" shape-rendering="crispEdges"/>
<path d="M836 502h2v1h-2zM836 503h3v1h-3zM835 504h4v1h-4zM835 505h5v1h-5zM834 506h6v1h-6z" shape-rendering="crispEdges"/>
<path d="M846 516h2v1h-2zM846 517h3v1h-3zM845 518h4v1h-4zM845 519h5v1h-5zM844 520h6v1h-6z" shape-rendering="crispEdges"/>
<path d="M856 516h2v1h-2zM856 517h3v1h-3zM855 518h4v1h-4zM855 519h5v1h-5zM854 520h6v1h-6z" shape-rendering="crispEdges"/>
<path d="M866 499h2v1h-2zM866 500h3v1h-3zM865 501h4v1h-4zM865 502h5v1h-5zM864 503h6v1h-6z" shape-rendering="crispEdges"/>
<path d="M876 518h2v1h-2zM876 519h3v1h-3zM875 520h4v1h-4zM875 521h5v1h-5zM874 522h6v1h-6z" shape-rendering="crispEdges"/>
<path d="M887 489h2v1h-2zM887 490h3v1h-3zM886 491h4v1h-4zM886 492h5v1h-5zM885 493h6v1h-6z" shape-rendering="crispEdges"/>
<path d="M897 488h2v1h-2zM897 489h3v1h-3zM896 490h4v1h-4zM896 491h5v1h-5zM895 492h6v1h-6z" shape-rendering="crispEdges"/>
<path d="M907 512h2v1h-2zM907 513h3v1h-3zM906 514h4v1h-4zM906 515h5v1h-5zM905 516h6v1h-6z" shape-rendering="crispEdges"/>
<path d="M917 510h2v1h-2zM917 511h3v1h-3zM916 512h4v1h-4zM916 513h5v1h-5zM915 514h6v1h-6z" shape-rendering="crispEdges"/>
<path d="M927 507h2v1h-2zM927 508h3v1h-3zM926 509h4v1h-4zM926 510h5v1h-5zM925 511h6v1h-6z" shape-rendering="crispEdges"/>
<path d="M938 492h2v1h-2zM938 493h3v1h-3zM937 494h4v1h-4zM937 495h5v1h-5zM936 496h6v1h-6z" shape-rendering="crispEdges"/>
<path d="M948 484h2v1h-2zM948 485h3v1h-3zM947 486h4v1h-4zM947 487h5v1h-5zM946 488h6v1h-6z" shape-rendering="crispEdges"/>
<path d="M958 497h2v1h-2zM958 498h3v1h-3zM957 499h4v1h-4zM957 500h5v1h-5zM956 501h6v1h-6z" shape-rendering="crispEdges"/>
<path d="M968 486h2v1h-2zM968 487h3v1h-3zM967 488h4v1h-4zM967 489h5v1h-5zM966 490h6v1h-6z" shape-rendering="crispEdges"/>
<path d="M978 501h2v1h-2zM978 502h3v1h-3zM977 503h4v1h-4zM977 504h5v1h-5zM976 505h6v1h-6z" shape-rendering="crispEdges"/>
<path d="M989 503h2v1h-2zM989 504h3v1h-3zM988 505h4v1h-4zM988 506h5v1h-5zM987 507h6v1h-6z" shape-rendering="crispEdges"/>
<path d="M999 498h2v1h-2zM999 499h3v1h-3zM998 500h4v1h-4zM998 501h5v1h-5zM997 502h6v1h-6z" shape-rendering="crispEdges"/>
<path d="M1009 510h2v1h-2zM1009 511h3v1h-3zM1008 512h4v1h-4zM1008 513h5v1h-5zM1007 514h6v1h-6z" shape-rendering="crispEdges"/>
<path d="M1019 501h2v1h-2zM1019 502h3v1h-3zM1018 503h4v1h-4zM1018 504h5v1h-5zM1017 505h6v1h-6z" shape-rendering="crispEdges"/>
<path d="M1030 495h2v1h-2zM1030 496h3v1h-3zM1029 497h4v1h-4zM1029 498h5v1h-5zM1028 499h6v1h-6z" shape-rendering="crispEdges"/>
<path d="M1040 507h2v1h-2zM1040 508h3v1h-3zM1039 509h4v1h-4zM1039 510h5v1h-5zM1038 511h6v1h-6z" shape-rendering="crispEdges"/>
<path d="M1050 505h2v1h-2zM1050 506h3v1h-3zM1049 507h4v1h-4zM1049 508h5v1h-5zM1048 509h6v1h-6z" shape-rendering="crispEdges"/>
<path d="M1060 503h2v1h-2zM1060 504h3v1h-3zM1059 505h4v1h-4zM1059 506h5v1h-5zM1058 507h6v1h-6z" shape-rendering="crispEdges"/>
<path d="M1070 492h2v1h-2zM1070 493h3v1h-3zM1069 494h4v1h-4zM1069 495h5v1h-5zM1068 496h6v1h-6z" shape-rendering="crispEdges"/>
<path d="M1081 515h2v1h-2zM1081 516h3v1h-3zM1080 517h4v1h-4zM1080 518h5v1h-5zM1079 519h6v1h-6z" shape-rendering="crispEdges"/>
<path d="M1091 508h2v1h-2zM1091 509h3v1h-3zM1090 510h4v1h-4zM1090 511h5v1h-5zM1089 512h6v1h-6z" shape-rendering="crispEdges"/>
<path d="M1101 513h2v1h-2zM1101 514h3v1h-3zM1100 515h4v1h-4zM1100 516h5v1h-5zM1099 517h6v1h-6z" shape-rendering="crispEdges"/>
<path d="M1111 533h2v1h-2zM1111 534h3v1h-3zM1110 535h4v1h-4zM1110 536h5v1h-5zM1109 537h6v1h-6z" shape-rendering="crispEdges"/>
<path d="M1121 507h2v1h-2zM1121 508h3v1h-3zM1120 509h4v1h-4zM1120 510h5v1h-5zM1119 511h6v1h-6z" shape-rendering="crispEdges"/>
<path d="M1132 509h2v1h-2zM1132 510h3v1h-3zM1131 511h4v1h-4zM1131 512h5v1h-5zM1130 513h6v1h-6z" shape-rendering="crispEdges"/>
<path d="M1142 492h2v1h-2zM1142 493h3v1h-3zM1141 494h4v1h-4zM1141 495h5v1h-5zM1140 496h6v1h-6z" shape-rendering="crispEdges"/>
</g></g>
<path d="M1149 105H1152V152.5H1026V150H1149Z" fill="#000" shape-rendering="crispEdges"/>
<rect x="1020.5" y="99.5" width="128.0" height="50.0" fill="#f0f0f0" stroke="#000" stroke-width="1" shape-rendering="crispEdges"/>
<path d="M1031.31 112.50L1029.83 114.83L1027.50 116.31L1025.17 114.83L1023.69 112.50L1025.17 110.17L1027.50 108.69L1029.83 110.17Z" fill="#0000ff"/>
<path d="M1027 133h1v1h-1zM1026 134h2v1h-2zM1026 135h3v1h-3zM1025 136h4v1h-4zM1025 137h5v1h-5zM1024 138h6v1h-6z" fill="#ff0000" shape-rendering="crispEdges"/>
<text transform="translate(1033,116.9) scale(1,1.07)" font-family='"Liberation Sans", sans-serif' font-weight="bold" font-size="19.1">True Proton</text>
<text transform="translate(1032.9,141.6) scale(1,1.07)" font-family='"Liberation Sans", sans-serif' font-weight="bold" font-size="19.1">Fake Proton</text>
<g font-family='"Liberation Sans", sans-serif' font-weight="bold" fill="#000">
<text id="title" x="63" y="41.2" font-size="8" textLength="1149.5" lengthAdjust="spacingAndGlyphs">Downstream Proton ID Eff. V TrackP | CombDLLp &gt; 1.000 | All NaturalMix AllPhysTracksInEvent:AllPhysTracksInEvent ReweightRICH2 EvalWithPreSel | Train:HeavyNoGhosts-Eval:MixtureGhosts | TMVA-NoPreSels-CombDLL-NoGECs | MLP Norm BP NCycles750 CE tanh SF1.2 CVTest15:1e-16 !UseReg</text>
<text transform="translate(106.43,906.80) scale(1,1.04)" font-size="28">0</text>
<path transform="translate(90.86,827.12) scale(0.01367,-0.01422)" d="M480 0L480 990L140 990L140 1165Q470 1185 575 1409L765 1409L765 0Z"/>
<text transform="translate(106.43,827.12) scale(1,1.04)" font-size="28">0</text>
<text transform="translate(90.86,747.44) scale(1,1.04)" font-size="28">20</text>
<text transform="translate(90.86,667.76) scale(1,1.04)" font-size="28">30</text>
<text transform="translate(90.86,588.08) scale(1,1.04)" font-size="28">40</text>
<text transform="translate(90.86,508.40) scale(1,1.04)" font-size="28">50</text>
<text transform="translate(90.86,428.72) scale(1,1.04)" font-size="28">60</text>
<text transform="translate(90.86,349.04) scale(1,1.04)" font-size="28">70</text>
<text transform="translate(90.86,269.36) scale(1,1.04)" font-size="28">80</text>
<text transform="translate(90.86,189.68) scale(1,1.04)" font-size="28">90</text>
<path transform="translate(75.28,110.00) scale(0.01367,-0.01422)" d="M480 0L480 990L140 990L140 1165Q470 1185 575 1409L765 1409L765 0Z"/>
<text transform="translate(90.86,110.00) scale(1,1.04)" font-size="28">00</text>
<text transform="translate(304.78,935.20) scale(1,1.04)" font-size="28">20</text>
<text transform="translate(508.94,935.20) scale(1,1.04)" font-size="28">40</text>
<text transform="translate(713.10,935.20) scale(1,1.04)" font-size="28">60</text>
<text transform="translate(917.26,935.20) scale(1,1.04)" font-size="28">80</text>
<path transform="translate(1114.83,935.20) scale(0.01367,-0.01422)" d="M480 0L480 990L140 990L140 1165Q470 1185 575 1409L765 1409L765 0Z"/>
<text transform="translate(1130.41,935.20) scale(1,1.04)" font-size="28">00</text>
<text id="xt" x="1149" y="973.7" font-size="28" text-anchor="end">Downstream Proton Momentum / MeV/c</text>
<text id="yt" transform="translate(46.5,98.4) rotate(-90)" font-size="27.9" text-anchor="end">Efficiency / %</text>
<path d="M1153.2 882L1167 895.6M1167 882L1153.2 895.6" stroke="#000" stroke-width="1.7" fill="none"/>
<path transform="translate(1167.60,896.20) scale(0.01367,-0.01422)" d="M480 0L480 990L140 990L140 1165Q470 1185 575 1409L765 1409L765 0Z"/>
<text transform="translate(1183.17,896.20) scale(1,1.04)" font-size="28">0</text>
<text transform="translate(1197.8,882.6) scale(1,1.07)" font-size="20">3</text>
</g>
</svg>
</body></html>
